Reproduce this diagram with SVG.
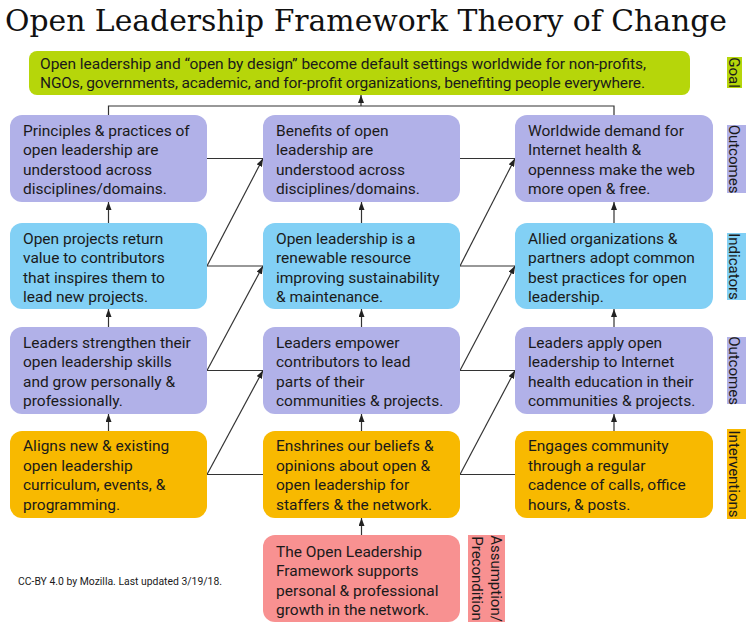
<svg xmlns="http://www.w3.org/2000/svg" width="755" height="628" viewBox="0 0 755 628">
<defs>
<style>
.t{font-family:Roboto,"Noto Sans",sans-serif;font-size:15.5px;fill:#1a1a1a}
.lbl{font-family:Roboto,"Noto Sans",sans-serif;font-size:15px;fill:#1a1a1a}
.o{fill:#b1b1e8}
.i{fill:#82d0f5}
.v{fill:#f8b900}
.p{fill:#f89191}
.g{fill:#b6d60a}
.c{stroke:#333;stroke-width:1.2;fill:none}
.a{marker-end:url(#ah)}
</style>
<marker id="ah" viewBox="0 0 8 6" refX="8" refY="3" markerWidth="8" markerHeight="6" orient="auto" markerUnits="userSpaceOnUse">
<path d="M0,0 L8,3 L0,6 z" fill="#222"/>
</marker>
</defs>
<rect width="755" height="628" fill="#ffffff"/>
<text x="5" y="31" font-family="'DejaVu Serif',serif" font-size="29" fill="#111" textLength="722" lengthAdjust="spacingAndGlyphs">Open Leadership Framework Theory of Change</text>

<g id="connectors">
<path class="c" d="M108.5,115 V106 H614 V115"/>
<path class="c a" d="M361,106 V95"/>
<path class="c a" d="M108.5,223 V202"/>
<path class="c a" d="M361.5,223 V202"/>
<path class="c a" d="M614,223 V202"/>
<path class="c a" d="M108.5,327 V309"/>
<path class="c a" d="M361.5,327 V309"/>
<path class="c a" d="M614,327 V309"/>
<path class="c a" d="M108.5,431 V414"/>
<path class="c a" d="M361.5,431 V414"/>
<path class="c a" d="M614,431 V414"/>
<path class="c a" d="M361.5,535 V518"/>
<path class="c" d="M207,158.5 H263"/>
<path class="c" d="M207,266 H263"/>
<path class="c" d="M207,370.5 H263"/>
<path class="c" d="M207,474.5 H263"/>
<path class="c" d="M460,158.5 H515"/>
<path class="c" d="M460,266 H515"/>
<path class="c" d="M460,370.5 H515"/>
<path class="c" d="M460,474.5 H515"/>
<path class="c a" d="M207,266 L263,158.5"/>
<path class="c a" d="M207,370.5 L263,266"/>
<path class="c a" d="M207,474.5 L263,370.5"/>
<path class="c a" d="M460,266 L515,158.5"/>
<path class="c a" d="M460,370.5 L515,266"/>
<path class="c a" d="M460,474.5 L515,370.5"/>
</g>

<g id="goal">
<rect class="g" x="29" y="51" width="661" height="44" rx="8"/>
<text class="t" x="40" y="68.5" textLength="606">Open leadership and “open by design” become default settings worldwide for non-profits,</text>
<text class="t" x="40" y="87.5" textLength="605">NGOs, governments, academic, and for-profit organizations, benefiting people everywhere.</text>
</g>

<g id="r1c1"><rect class="o" x="10" y="115" width="197" height="87" rx="12"/>
<text class="t" y="135.5"><tspan x="23">Principles &amp; practices of</tspan><tspan x="23" dy="19.5">open leadership are</tspan><tspan x="23" dy="19.5">understood across</tspan><tspan x="23" dy="19.5">disciplines/domains.</tspan></text></g>
<g id="r1c2"><rect class="o" x="263" y="115" width="197" height="87" rx="12"/>
<text class="t" y="135.5"><tspan x="276">Benefits of open</tspan><tspan x="276" dy="19.5">leadership are</tspan><tspan x="276" dy="19.5">understood across</tspan><tspan x="276" dy="19.5">disciplines/domains.</tspan></text></g>
<g id="r1c3"><rect class="o" x="515" y="115" width="198" height="87" rx="12"/>
<text class="t" y="135.5"><tspan x="528">Worldwide demand for</tspan><tspan x="528" dy="19.5">Internet health &amp;</tspan><tspan x="528" dy="19.5">openness make the web</tspan><tspan x="528" dy="19.5">more open &amp; free.</tspan></text></g>

<g id="r2c1"><rect class="i" x="10" y="223" width="197" height="86" rx="12"/>
<text class="t" y="243.5"><tspan x="23">Open projects return</tspan><tspan x="23" dy="19.5">value to contributors</tspan><tspan x="23" dy="19.5">that inspires them to</tspan><tspan x="23" dy="19.5">lead new projects.</tspan></text></g>
<g id="r2c2"><rect class="i" x="263" y="223" width="197" height="86" rx="12"/>
<text class="t" y="243.5"><tspan x="276">Open leadership is a</tspan><tspan x="276" dy="19.5">renewable resource</tspan><tspan x="276" dy="19.5">improving sustainability</tspan><tspan x="276" dy="19.5">&amp; maintenance.</tspan></text></g>
<g id="r2c3"><rect class="i" x="515" y="223" width="198" height="86" rx="12"/>
<text class="t" y="243.5"><tspan x="528">Allied organizations &amp;</tspan><tspan x="528" dy="19.5">partners adopt common</tspan><tspan x="528" dy="19.5">best practices for open</tspan><tspan x="528" dy="19.5">leadership.</tspan></text></g>

<g id="r3c1"><rect class="o" x="10" y="327" width="197" height="87" rx="12"/>
<text class="t" y="347.5"><tspan x="23">Leaders strengthen their</tspan><tspan x="23" dy="19.5">open leadership skills</tspan><tspan x="23" dy="19.5">and grow personally &amp;</tspan><tspan x="23" dy="19.5">professionally.</tspan></text></g>
<g id="r3c2"><rect class="o" x="263" y="327" width="197" height="87" rx="12"/>
<text class="t" y="347.5"><tspan x="276">Leaders empower</tspan><tspan x="276" dy="19.5">contributors to lead</tspan><tspan x="276" dy="19.5">parts of their</tspan><tspan x="276" dy="19.5">communities &amp; projects.</tspan></text></g>
<g id="r3c3"><rect class="o" x="515" y="327" width="198" height="87" rx="12"/>
<text class="t" y="347.5"><tspan x="528">Leaders apply open</tspan><tspan x="528" dy="19.5">leadership to Internet</tspan><tspan x="528" dy="19.5">health education in their</tspan><tspan x="528" dy="19.5">communities &amp; projects.</tspan></text></g>

<g id="r4c1"><rect class="v" x="10" y="431" width="197" height="87" rx="12"/>
<text class="t" y="451"><tspan x="23">Aligns new &amp; existing</tspan><tspan x="23" dy="19.5">open leadership</tspan><tspan x="23" dy="19.5">curriculum, events, &amp;</tspan><tspan x="23" dy="19.5">programming.</tspan></text></g>
<g id="r4c2"><rect class="v" x="263" y="431" width="197" height="87" rx="12"/>
<text class="t" y="451"><tspan x="276">Enshrines our beliefs &amp;</tspan><tspan x="276" dy="19.5">opinions about open &amp;</tspan><tspan x="276" dy="19.5">open leadership for</tspan><tspan x="276" dy="19.5">staffers &amp; the network.</tspan></text></g>
<g id="r4c3"><rect class="v" x="515" y="431" width="198" height="87" rx="12"/>
<text class="t" y="451"><tspan x="528">Engages community</tspan><tspan x="528" dy="19.5">through a regular</tspan><tspan x="528" dy="19.5">cadence of calls, office</tspan><tspan x="528" dy="19.5">hours, &amp; posts.</tspan></text></g>

<g id="r5c2"><rect class="p" x="263" y="535" width="197" height="87" rx="12"/>
<text class="t" y="556.5"><tspan x="276">The Open Leadership</tspan><tspan x="276" dy="19.5">Framework supports</tspan><tspan x="276" dy="19.5">personal &amp; professional</tspan><tspan x="276" dy="19.5">growth in the network.</tspan></text></g>

<g id="labels">
<rect class="g" x="727" y="57" width="15" height="31"/>
<text class="lbl" transform="translate(729,72.5) rotate(90)" text-anchor="middle">Goal</text>
<rect class="o" x="727" y="125" width="19" height="68"/>
<text class="lbl" transform="translate(729,159) rotate(90)" text-anchor="middle">Outcomes</text>
<rect class="i" x="727" y="233" width="19" height="67"/>
<text class="lbl" transform="translate(729,266.5) rotate(90)" text-anchor="middle">Indicators</text>
<rect class="o" x="727" y="337" width="19" height="67"/>
<text class="lbl" transform="translate(729,370.5) rotate(90)" text-anchor="middle">Outcomes</text>
<rect class="v" x="727" y="429" width="19" height="90"/>
<text class="lbl" transform="translate(729,474) rotate(90)" text-anchor="middle">Interventions</text>
<rect class="p" x="468" y="535" width="37" height="87"/>
<text class="lbl" transform="translate(491,578.5) rotate(90)" text-anchor="middle">Assumption/</text>
<text class="lbl" transform="translate(472,578.5) rotate(90)" text-anchor="middle">Precondition</text>
</g>

<text x="18" y="585" font-family="Roboto,'Noto Sans',sans-serif" font-size="11.5" fill="#1a1a1a" textLength="204" lengthAdjust="spacingAndGlyphs">CC-BY 4.0 by Mozilla. Last updated 3/19/18.</text>
</svg>
